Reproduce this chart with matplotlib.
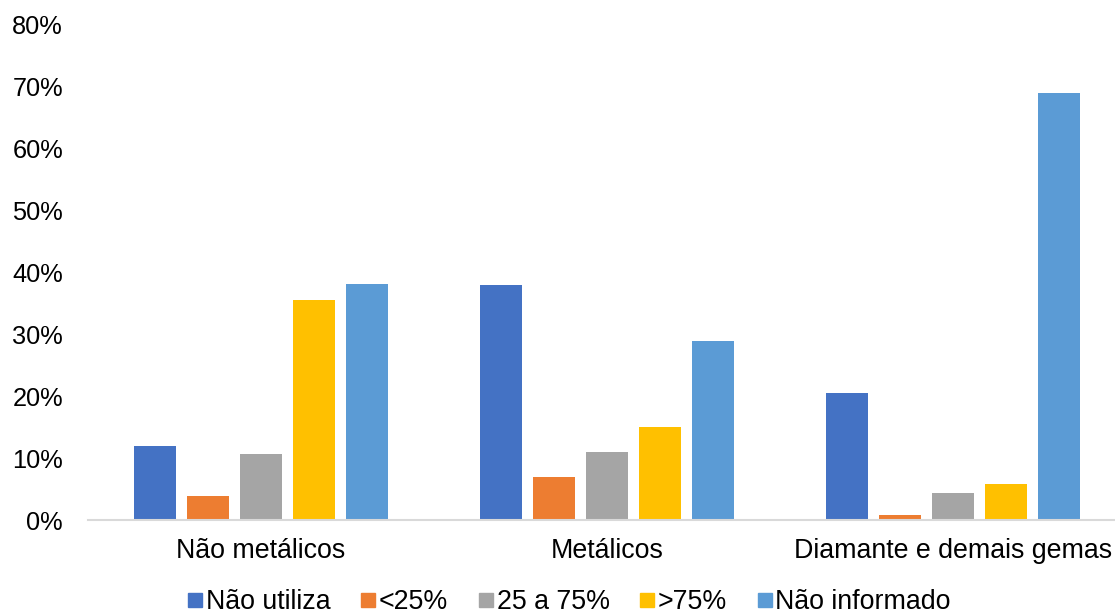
import matplotlib
matplotlib.use('Agg')
import matplotlib.pyplot as plt
from matplotlib.lines import Line2D
import numpy as np

plt.rcParams['font.family'] = ['Liberation Sans', 'DejaVu Sans']

# Data (percent)
cats = ['Não metálicos', 'Metálicos', 'Diamante e demais gemas']
series = ['Não utiliza', '<25%', '25 a 75%', '>75%', 'Não informado']
nao_utiliza = [11.9, 37.9, 20.5]
menor25 = [3.9, 6.9, 0.8]
entre25_75 = [10.6, 11.0, 4.4]
maior75 = [35.5, 15.0, 5.8]
nao_informado = [38.1, 28.9, 69.0]
vals = [nao_utiliza, menor25, entre25_75, maior75, nao_informado]

clrs = ['#4472C4', '#ED7D31', '#A5A5A5', '#FFC000', '#5B9BD5']

fig = plt.figure(figsize=(11.15, 6.14), dpi=100)
ax = fig.add_axes([88/1115, 1-520/614, 1.01 - 88/1115, (520-25)/614])

x = np.arange(len(cats))
step = 0.1532
w = 0.121
for i, (s, v) in enumerate(zip(series, vals)):
	ax.bar(x + (i-2)*step, v, width=w, color=clrs[i], label=s, zorder=2)

ax.set_xlim(-0.5, 2.5)
ax.set_ylim(0, 80)
ax.set_yticks(np.arange(0, 81, 10))
ax.set_yticklabels([f'{t}%' for t in range(0, 81, 10)])
ax.set_xticks(x)
ax.set_xticklabels(cats)
ax.tick_params(axis='both', length=0, colors='black')
ax.tick_params(axis='y', pad=18, labelsize=18.3)
ax.tick_params(axis='x', pad=13, labelsize=19.3)

for sp in ['top', 'right', 'left']:
	ax.spines[sp].set_visible(False)
ax.spines['bottom'].set_color('#D9D9D9')
ax.spines['bottom'].set_linewidth(1.5)

# Legend with square markers
hnd = [Line2D([], [], marker='s', linestyle='none', markersize=10, color=c) for c in clrs]
fig.legend(hnd, series, loc='center', bbox_to_anchor=(0.511, 1-602/614), ncol=5,
	frameon=False, fontsize=19.3, handlelength=0.5, handletextpad=0.15,
	columnspacing=1.15, borderaxespad=0, borderpad=0)

fig.savefig('out.png', dpi=100)
